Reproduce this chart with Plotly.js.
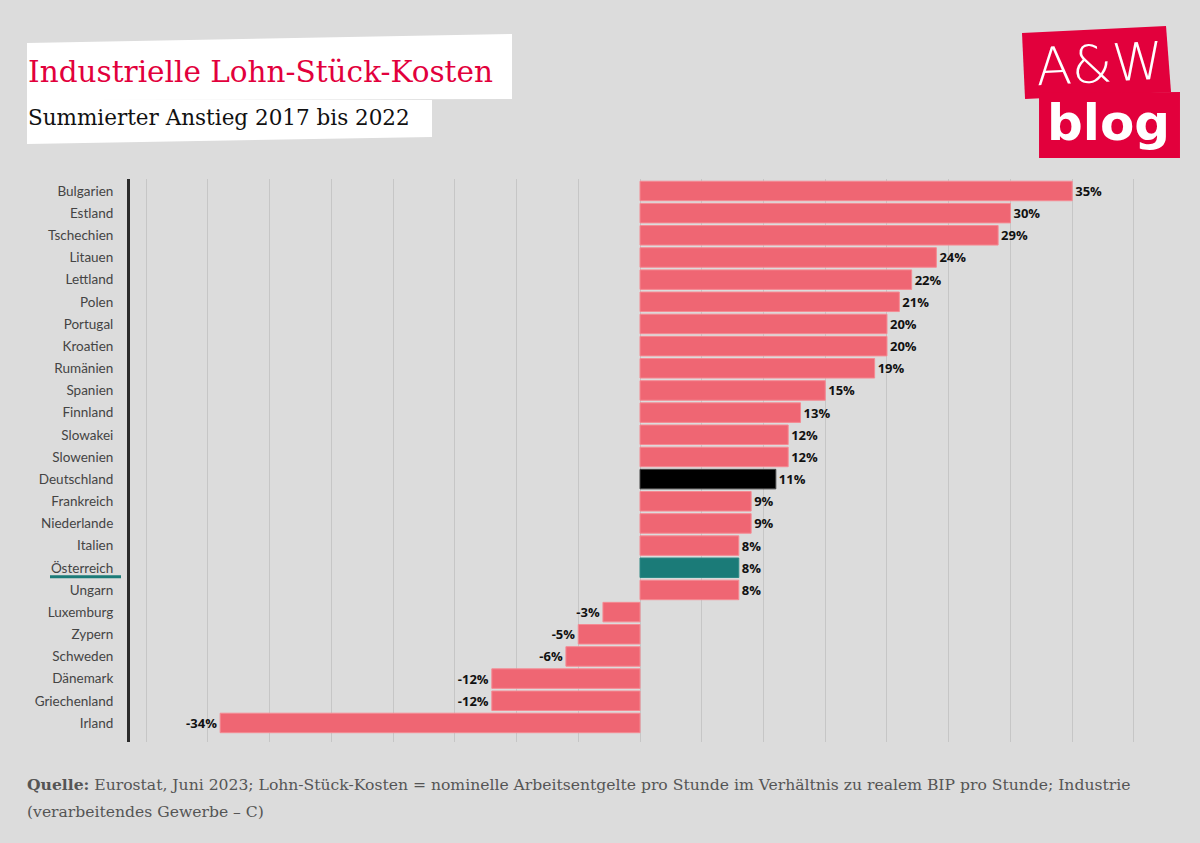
<!DOCTYPE html>
<html>
<head>
<meta charset="utf-8">
<script src="https://cdn.plot.ly/plotly-3.0.1.min.js"></script>
<style>
html,body{margin:0;padding:0;background:#dcdcdc;}
#chart{width:1200px;height:843px;}
</style>
</head>
<body>
<div id="chart"></div>
<script>
const countries = ["Bulgarien","Estland","Tschechien","Litauen","Lettland","Polen","Portugal","Kroatien","Rumänien","Spanien","Finnland","Slowakei","Slowenien","Deutschland","Frankreich","Niederlande","Italien","Österreich","Ungarn","Luxemburg","Zypern","Schweden","Dänemark","Griechenland","Irland"];
const values = [35,30,29,24,22,21,20,20,19,15,13,12,12,11,9,9,8,8,8,-3,-5,-6,-12,-12,-34];
const title = "Industrielle Lohn-Stück-Kosten";
const subtitle = "Summierter Anstieg 2017 bis 2022";
const sourceLine1 = "<b>Quelle:</b> Eurostat, Juni 2023; Lohn-Stück-Kosten = nominelle Arbeitsentgelte pro Stunde im Verhältnis zu realem BIP pro Stunde; Industrie";
const sourceLine2 = "(verarbeitendes Gewerbe – C)";

const W = 1200, H = 843;
const M = {l:130, r:50, t:179, b:101};
const px = x => (x - M.l) / (W - M.l - M.r);
const py = y => 1 - (y - M.t) / (H - M.t - M.b);
const path = pts => pts.map((p,i)=>(i? 'L':'M') + px(p[0]).toFixed(4) + ',' + py(p[1]).toFixed(4)).join(' ') + ' Z';

const colors = countries.map(c => c === "Deutschland" ? "#000000" : (c === "Österreich" ? "#1b7b78" : "#ef6673"));
const lineColors = countries.map(c => c === "Deutschland" ? "#444444" : (c === "Österreich" ? "#2e8a86" : "#f58a93"));

const trace = {
  type: 'bar', orientation: 'h',
  x: values, y: countries,
  marker: {color: colors, line: {color: lineColors, width: 1}},
  text: values.map(v => v + '%'),
  textposition: 'outside',
  cliponaxis: false,
  textfont: {family: 'Open Sans, sans-serif', size: 13, color: '#111', weight: 'bold'},
  hoverinfo: 'skip'
};

const shapes = [
  {type:'path', xref:'paper', yref:'paper', path: path([[27,43],[512,34],[512,99],[27,100]]), fillcolor:'#ffffff', line:{width:0}, layer:'below'},
  {type:'path', xref:'paper', yref:'paper', path: path([[27,99],[432,100],[432,137],[27,144]]), fillcolor:'#ffffff', line:{width:0}, layer:'below'},
  {type:'path', xref:'paper', yref:'paper', path: path([[1022,33],[1166,26],[1171,92],[1025,99]]), fillcolor:'#e2003c', line:{width:0}},
  {type:'path', xref:'paper', yref:'paper', path: path([[1039,93],[1180,92],[1180,158],[1039,158]]), fillcolor:'#e2003c', line:{width:0}},
  {type:'line', xref:'paper', yref:'y', x0: px(50), x1: px(121), y0: 17.4, y1: 17.4, line:{color:'#1b7b78', width:3}}
];

const annotations = [
  {xref:'paper', yref:'paper', x: px(26), y: py(72), xanchor:'left', yanchor:'middle', text: title, showarrow:false,
   font:{family:'DejaVu Serif, serif', size:29.5, color:'#e2003c'}},
  {xref:'paper', yref:'paper', x: px(26), y: py(118), xanchor:'left', yanchor:'middle', text: subtitle, showarrow:false,
   font:{family:'DejaVu Serif, serif', size:21.5, color:'#111'}},
  {xref:'paper', yref:'paper', x: px(1100), y: py(64), xanchor:'center', yanchor:'middle', text: 'A&amp;W', showarrow:false, textangle:-3,
   font:{family:'DejaVu Sans, sans-serif', size:52, color:'#ffffff', weight:300}},
  {xref:'paper', yref:'paper', x: px(1108), y: py(123), xanchor:'center', yanchor:'middle', text: '<b>blog</b>', showarrow:false,
   font:{family:'DejaVu Sans, sans-serif', size:50, color:'#ffffff'}},
  {xref:'paper', yref:'paper', x: px(25), y: py(784), xanchor:'left', yanchor:'middle', text: sourceLine1, showarrow:false,
   font:{family:'DejaVu Serif, serif', size:15.6, color:'#555'}},
  {xref:'paper', yref:'paper', x: px(25), y: py(812), xanchor:'left', yanchor:'middle', text: sourceLine2, showarrow:false,
   font:{family:'DejaVu Serif, serif', size:15.6, color:'#555'}}
];

const layout = {
  width: W, height: H,
  margin: M,
  paper_bgcolor: '#dcdcdc', plot_bgcolor: '#dcdcdc',
  showlegend: false,
  bargap: 0.12,
  xaxis: {range:[-41.3, 41.3], dtick:5, tick0:0, showticklabels:false, ticks:'', showgrid:true, gridcolor:'#c6c6c6', gridwidth:1, zeroline:true, zerolinecolor:'#c6c6c6', zerolinewidth:1, fixedrange:true},
  yaxis: {type:'category', range:[24.86, -0.54], showline:true, linecolor:'#2b2b2b', linewidth:3, ticks:'', ticklabelstandoff:11,
          tickfont:{family:'Lato, sans-serif', size:13.5, color:'#444'}, showgrid:false, fixedrange:true},
  shapes: shapes,
  annotations: annotations
};

Plotly.newPlot('chart', [trace], layout, {displayModeBar:false, staticPlot:true});
</script>
</body>
</html>
